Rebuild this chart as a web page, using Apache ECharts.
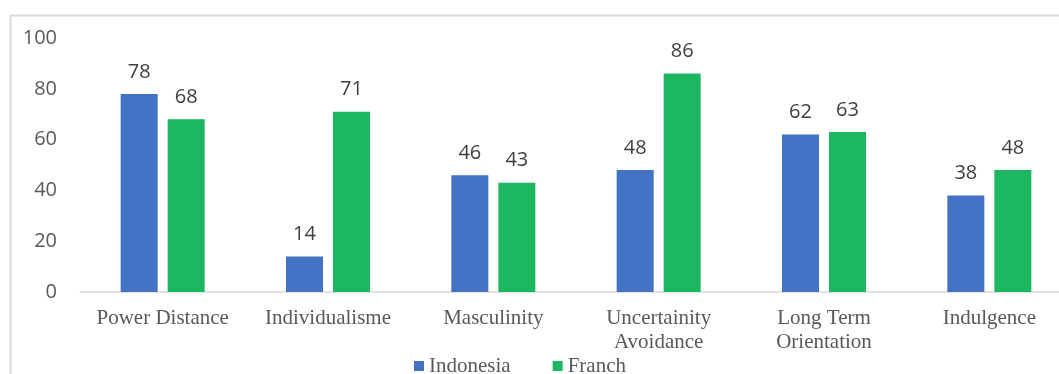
<!DOCTYPE html>
<html><head><meta charset="utf-8">
<script src="https://cdn.jsdelivr.net/npm/echarts@6/dist/echarts.min.js"></script>
<style>html,body{margin:0;padding:0;background:#fff;overflow:hidden}#c{width:1075px;height:374px}</style>
</head><body><div id="c"></div>
<script>
const categories = ['Power Distance','Individualisme','Masculinity','Uncertainity\nAvoidance','Long Term\nOrientation','Indulgence'];
const indonesia = [78,14,46,48,62,38];
const franch = [68,71,43,86,63,48];
const yTicks = {min:0,max:100,interval:20};

const chart = echarts.init(document.getElementById('c'));
const sans = '"Open Sans", sans-serif';
const serif = '"Liberation Serif", serif';
const labelStyle = {show:true,position:'top',distance:12,fontFamily:sans,fontSize:20,color:'#404040'};
chart.setOption({
  animation:false,
  textStyle:{fontFamily:serif},
  graphic:[{type:'rect',shape:{x:10.5,y:15.5,width:1100,height:400},style:{fill:'none',stroke:'#d9d9d9',lineWidth:2},z:-1}],
  grid:{left:80,right:3,top:38,bottom:82,containLabel:false},
  legend:{top:355,left:414,padding:0,itemGap:42,itemWidth:10,itemHeight:10,icon:'rect',
    textStyle:{fontFamily:'Liberation Serif',fontSize:21,lineHeight:22,color:'#595959'},
    data:['Indonesia','Franch']},
  xAxis:{type:'category',data:categories,
    axisLine:{lineStyle:{color:'#d9d9d9',width:1.5}},axisTick:{show:false},
    axisLabel:{interval:0,margin:14,fontFamily:serif,fontSize:21,color:'#595959',lineHeight:24}},
  yAxis:{type:'value',min:yTicks.min,max:yTicks.max,interval:yTicks.interval,
    splitLine:{show:false},axisLine:{show:false},axisTick:{show:false},
    axisLabel:{margin:23,fontFamily:sans,fontSize:20,color:'#595959'}},
  series:[
    {name:'Indonesia',type:'bar',data:indonesia,barWidth:37,barGap:'27%',itemStyle:{color:'#4472c4'},label:labelStyle},
    {name:'Franch',type:'bar',data:franch,barWidth:37,itemStyle:{color:'#1db761'},label:labelStyle}
  ]
});
</script></body></html>
